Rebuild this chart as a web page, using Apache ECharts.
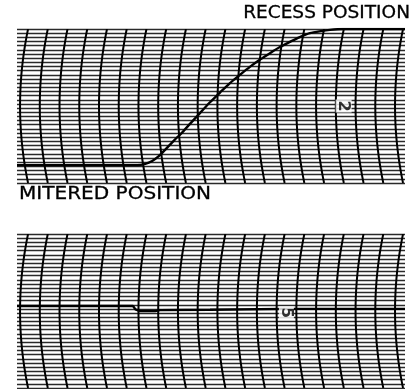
<!DOCTYPE html>
<html><head><meta charset="utf-8">
<script src="https://cdn.jsdelivr.net/npm/echarts@6/dist/echarts.min.js"></script>
<style>html,body{margin:0;padding:0;background:#fff;}#c{width:420px;height:389px;}</style>
</head><body><div id="c"></div>
<script>
// Chart divisions (x: time divisions along the strip, y: chart lines)
const topTitle = 'RECESS POSITION';
const bottomTitle = 'MITERED POSITION';
const topTag = '2';
const bottomTag = '5';
// Recess position trace
const recessX = [0, 6.1, 6.5, 6.85, 7.2, 7.55, 7.95, 8.4, 8.8, 9.27, 9.78, 10.3, 10.79, 11.3, 11.8, 12.3, 12.82, 13.3, 13.83, 14.3, 14.84, 15.4, 15.86, 16.5, 17.38, 19.66];
const recessY = [4.3, 4.3, 4.6, 5.3, 6.5, 8.2, 10.2, 12.3, 14.4, 16.8, 19.4, 21.8, 24.0, 26.0, 27.9, 29.6, 31.2, 32.6, 33.9, 35.0, 36.0, 36.5, 36.8, 37, 37, 37];
// Mitered position trace
const miterX = [0, 5.88, 6.0, 6.23, 7.0, 7.25, 9.78, 13.5, 19.66];
const miterY = [19.7, 19.7, 18.9, 18.5, 18.5, 18.7, 18.8, 19.0, 19.0];
// Tag positions
const tagTop = [16.55, 18.5];
const tagBottom = [13.65, 18.1];
// Curved time lines of the chart paper (position at the top edge)
const arcPositions = [0.56,1.56,2.56,3.56,4.56,5.56,6.56,7.56,8.56,9.56,10.56,11.56,12.56,13.56,14.56,15.56,16.56,17.56,18.56,19.56];
const X_MAX = 19.66, Y_MAX = 37, SAG = 8;

const zip = (xs, ys) => xs.map((x, i) => [x, ys[i]]);
const chart = echarts.init(document.getElementById('c'));
const axisX = (gi) => ({gridIndex: gi, type: 'value', min: 0, max: X_MAX, show: true,
  axisLine: {show: false}, axisTick: {show: false}, axisLabel: {show: false}, splitLine: {show: false}});
const axisY = (gi) => ({gridIndex: gi, type: 'value', min: 0, max: Y_MAX, interval: 1,
  axisLine: {show: false}, axisTick: {show: false}, axisLabel: {show: false},
  splitLine: {show: true, lineStyle: {color: '#2a2a2a', width: 1.4}}});
const arcSeries = (gi) => ({
  type: 'custom', xAxisIndex: gi, yAxisIndex: gi, clip: true, silent: true,
  data: arcPositions.map(v => [v]),
  renderItem: function (params, api) {
    const x = api.value(0);
    const a = api.coord([x, Y_MAX]);
    const b = api.coord([x, 0]);
    const pts = [];
    for (let i = 0; i <= 24; i++) {
      const t = i / 24, u = 2 * t - 1;
      pts.push([a[0] - SAG * (1 - u * u), a[1] + (b[1] - a[1]) * t]);
    }
    return {type: 'polyline', shape: {points: pts}, style: {stroke: '#000', lineWidth: 2, fill: null}};
  }
});
const tagSeries = (gi, pos, txt, size) => ({
  type: 'scatter', xAxisIndex: gi, yAxisIndex: gi, symbolSize: 0, silent: true, z: 10,
  data: [pos],
  label: {show: true, position: 'inside', formatter: txt, rotate: -90, color: '#000',
    fontFamily: 'DejaVu Sans', fontWeight: 'bold', fontSize: size,
    backgroundColor: '#fff', padding: [0, 1]}
});
chart.setOption({
  animation: false,
  backgroundColor: '#fff',
  grid: [
    {left: 17, top: 29, width: 388, height: 154},
    {left: 17, top: 234, width: 388, height: 154}
  ],
  xAxis: [axisX(0), axisX(1)],
  yAxis: [axisY(0), axisY(1)],
  graphic: [
    {type: 'text', x: 410, y: 5, scaleX: 1.09, originX: 0, originY: 0,
      style: {text: topTitle, font: '17px "DejaVu Sans"', fill: '#000', stroke: '#000', lineWidth: 0.3, textAlign: 'right', textVerticalAlign: 'top'}},
    {type: 'text', x: 19, y: 186, scaleX: 1.18, originX: 0, originY: 0,
      style: {text: bottomTitle, font: '17px "DejaVu Sans"', fill: '#000', stroke: '#000', lineWidth: 0.3, textAlign: 'left', textVerticalAlign: 'top'}}
  ],
  series: [
    arcSeries(0), arcSeries(1),
    {type: 'line', xAxisIndex: 0, yAxisIndex: 0, data: zip(recessX, recessY), showSymbol: false, smooth: 0.2,
      lineStyle: {color: '#000', width: 2.4}, z: 5},
    {type: 'line', xAxisIndex: 1, yAxisIndex: 1, data: zip(miterX, miterY), showSymbol: false,
      lineStyle: {color: '#000', width: 2.4}, z: 5},
    tagSeries(0, tagTop, topTag, 16),
    tagSeries(1, tagBottom, bottomTag, 15)
  ]
});
</script></body></html>
